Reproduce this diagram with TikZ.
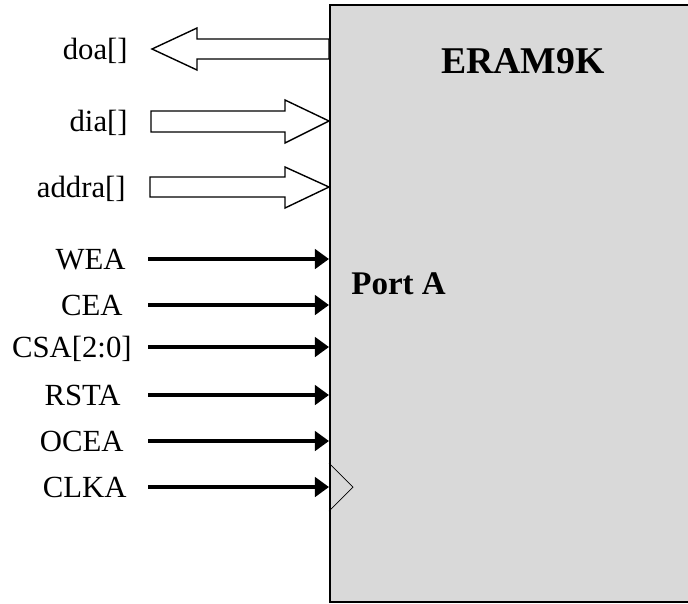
\documentclass[tikz,border=0pt]{standalone}
\usepackage{fontspec}
\setmainfont{Liberation Serif}
\usepackage{tikz}
\usetikzlibrary{arrows.meta, positioning}
\tikzstyle{ram} = [rectangle, draw=black, line width=1.2pt, fill=black!15, minimum width=7.42cm, minimum height=11.94cm, inner sep=0pt, anchor=north west]
\tikzstyle{pin} = [anchor=east, inner sep=0pt, text height=11.6pt, text depth=0pt, font=\fontsize{17.5}{20}\selectfont]
\tikzstyle{title} = [anchor=base, inner sep=0pt, font=\fontsize{21.5}{24}\selectfont\bfseries]
\tikzstyle{bus} = [line width=0.8pt, fill=white, line join=miter]
\tikzstyle{sig} = [line width=2.2pt, -{Triangle[length=8pt, width=11pt]}]

\begin{document}
\begin{tikzpicture}[x=0.02cm, y=-0.02cm]
	\useasboundingbox (0,0) rectangle (688,603);
	\node (eram) [ram] at (329,4) {};
	\node (name) [title] at (523,73) {ERAM9K};
	\node (porta) [title, anchor=base west, font=\fontsize{18.8}{22}\selectfont\bfseries] at (351,294) {Port A};
	\coordinate (wire) at (148,0);
	% bus ports
	\node (doa) [pin] at (128,49) {doa[]};
	\node (dia) [pin] at (128,121) {dia[]};
	\node (addra) [pin] at (126,187) {addra[]};
	% single ports
	\node (wea) [pin] at (126,259) {WEA};
	\node (cea) [pin] at (123,305) {CEA};
	\node (csa) [pin] at (132,347) {CSA[2:0]};
	\node (rsta) [pin] at (121,395) {RSTA};
	\node (ocea) [pin] at (124,441) {OCEA};
	\node (clka) [pin] at (127,487) {CLKA};
	\draw [bus] (doa -| eram.west) ++(0,-10) -- ++(-132,0) -- ++(0,-11) -- ++(-45,21) -- ++(45,21) -- ++(0,-11) -- ++(132,0) -- cycle;
	\draw [bus] (dia -| eram.west) -- ++(-44,-21) -- ++(0,11) -- ++(-134,0) -- ++(0,21) -- ++(134,0) -- ++(0,11) -- cycle;
	\draw [bus] (addra -| eram.west) -- ++(-44,-20) -- ++(0,10) -- ++(-135,0) -- ++(0,20) -- ++(135,0) -- ++(0,11) -- cycle;
	\draw [sig] (wea -| wire) -- (wea -| eram.west);
	\draw [sig] (cea -| wire) -- (cea -| eram.west);
	\draw [sig] (csa -| wire) -- (csa -| eram.west);
	\draw [sig] (rsta -| wire) -- (rsta -| eram.west);
	\draw [sig] (ocea -| wire) -- (ocea -| eram.west);
	\draw [sig] (clka -| wire) -- (clka -| eram.west);
	\draw [line width=0.4pt] (clka -| eram.west) ++(0,-24) -- ++(24,24) -- ++(-24,24);
\end{tikzpicture}
\end{document}
